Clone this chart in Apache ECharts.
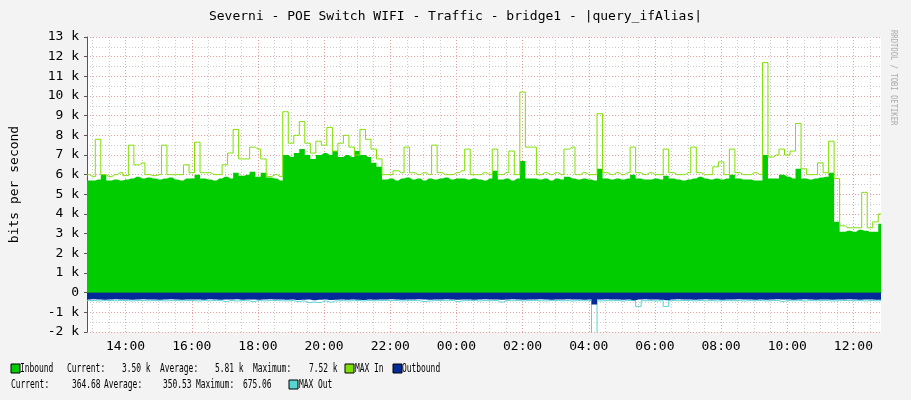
<!DOCTYPE html>
<html>
<head>
<meta charset="utf-8">
<script src="https://cdn.jsdelivr.net/npm/echarts@6/dist/echarts.min.js"></script>
<style>
  html, body { margin: 0; padding: 0; background: #f3f3f3; }
  #chart { width: 911px; height: 400px; }
</style>
</head>
<body>
<div id="chart"></div>
<script>
// 10 minute samples, starting 12:50
const startMinutes = 12 * 60 + 50;
const stepMinutes = 10;

const inbound = [
  5.7,5.7,5.75,6.0,5.7,5.75,5.7,5.75,5.8,5.9,
  5.8,5.85,5.8,5.75,5.8,5.85,5.75,5.7,5.8,5.8,
  6.0,5.8,5.75,5.7,5.8,5.9,5.8,6.1,5.95,6.0,
  6.15,5.9,6.1,5.85,5.8,5.7,
  7.0,6.9,7.1,7.3,7.0,6.8,7.0,7.1,7.0,7.2,6.9,7.0,6.9,7.2,7.0,6.9,6.6,6.4,
  5.75,5.8,5.7,5.8,5.85,5.75,5.8,5.7,5.8,5.75,5.8,5.85,5.75,5.8,5.8,5.75,
  5.8,5.75,5.7,5.8,6.2,5.75,5.8,5.7,5.8,6.7,
  5.8,5.8,5.75,5.8,5.7,5.8,5.75,5.9,5.8,5.75,
  5.8,5.75,5.7,6.3,5.8,5.75,5.8,5.75,5.8,6.0,
  5.8,5.75,5.75,5.8,5.75,5.95,5.8,5.75,5.7,5.75,
  5.8,5.9,5.8,5.75,5.8,5.75,5.8,6.0,5.8,5.75,
  5.75,5.7,5.7,7.0,5.8,5.8,6.0,5.9,5.8,6.3,
  5.8,5.75,5.8,5.85,5.9,6.1,3.6,3.1,3.15,3.1,
  3.2,3.15,3.1,3.1,3.5
];

const maxIn = [
  6.0,5.9,7.8,6.0,5.9,6.0,6.1,5.95,7.5,6.5,
  6.6,6.0,5.95,6.0,7.5,6.0,6.0,6.0,6.5,6.1,
  7.65,6.1,6.1,6.0,6.0,6.5,7.1,8.3,6.8,6.8,
  7.4,7.3,6.8,5.9,6.0,5.9,
  9.2,7.6,8.0,8.7,7.6,7.1,7.7,7.5,8.4,7.2,7.6,8.0,7.4,7.0,8.3,7.8,7.3,6.8,
  6.0,6.0,6.2,6.1,7.4,6.1,6.0,6.1,6.0,7.5,6.1,6.0,6.0,6.1,6.2,7.3,
  6.0,6.0,6.1,6.0,7.3,6.0,6.1,7.2,6.0,10.2,
  7.4,7.4,6.0,6.1,6.0,6.1,6.0,7.3,7.4,6.0,
  6.1,6.0,6.0,9.1,6.1,6.0,6.1,6.0,6.1,7.4,
  6.1,6.0,6.1,6.0,6.0,7.3,6.1,6.0,6.0,6.1,
  7.4,6.1,6.0,6.0,6.4,6.65,6.0,7.3,6.1,6.0,
  6.0,6.1,6.0,11.7,6.9,7.0,7.3,7.0,7.2,8.6,
  6.3,6.0,6.0,6.6,6.1,7.7,5.8,3.4,3.3,3.3,
  3.3,5.1,3.3,3.6,4.0
];

// outbound values (k), drawn below zero
const outbound = [
  0.35,0.34,0.35,0.36,0.35,0.34,0.35,0.35,0.36,0.35,
  0.34,0.35,0.35,0.36,0.35,0.34,0.35,0.36,0.35,0.35,
  0.35,0.36,0.34,0.35,0.36,0.35,0.35,0.34,0.36,0.35,
  0.35,0.36,0.35,0.34,0.35,0.35,
  0.36,0.35,0.37,0.36,0.35,0.38,0.36,0.35,0.37,0.36,0.35,0.36,0.35,0.36,0.37,0.35,0.36,0.35,
  0.35,0.34,0.35,0.36,0.35,0.35,0.34,0.35,0.36,0.35,0.35,0.34,0.35,0.36,0.35,0.35,
  0.36,0.35,0.34,0.35,0.35,0.36,0.35,0.34,0.35,0.36,
  0.35,0.35,0.34,0.35,0.36,0.35,0.35,0.34,0.35,0.35,
  0.36,0.35,0.6,0.35,0.34,0.35,0.35,0.36,0.35,0.38,
  0.35,0.34,0.35,0.35,0.36,0.38,0.35,0.34,0.35,0.35,
  0.36,0.35,0.34,0.35,0.35,0.36,0.35,0.35,0.34,0.35,
  0.35,0.36,0.35,0.36,0.35,0.34,0.35,0.35,0.36,0.35,
  0.34,0.35,0.36,0.35,0.35,0.36,0.35,0.35,0.34,0.35,
  0.36,0.35,0.35,0.36,0.365
];

const maxOut = [
  0.4,0.4,0.42,0.4,0.4,0.41,0.4,0.4,0.42,0.4,
  0.4,0.41,0.4,0.4,0.42,0.4,0.4,0.41,0.4,0.4,
  0.42,0.4,0.41,0.4,0.4,0.45,0.4,0.42,0.4,0.41,
  0.45,0.4,0.42,0.4,0.4,0.41,
  0.42,0.4,0.45,0.42,0.5,0.48,0.5,0.42,0.48,0.42,0.4,0.42,0.41,0.4,0.42,0.4,0.41,0.4,
  0.4,0.41,0.4,0.42,0.4,0.4,0.41,0.45,0.42,0.4,0.4,0.41,0.4,0.45,0.41,0.4,
  0.4,0.42,0.4,0.41,0.4,0.48,0.4,0.41,0.4,0.42,
  0.4,0.4,0.41,0.42,0.4,0.4,0.41,0.4,0.42,0.4,
  0.41,0.4,2.1,0.42,0.4,0.41,0.4,0.42,0.4,0.4,
  0.7,0.41,0.4,0.42,0.41,0.7,0.4,0.41,0.4,0.4,
  0.42,0.4,0.41,0.4,0.42,0.4,0.4,0.41,0.4,0.42,
  0.4,0.41,0.4,0.42,0.4,0.4,0.45,0.4,0.41,0.4,
  0.42,0.4,0.41,0.4,0.4,0.42,0.41,0.4,0.4,0.41,
  0.4,0.42,0.4,0.41,0.4
];

const yTicks = [-2, -1, 0, 1, 2, 3, 4, 5, 6, 7, 8, 9, 10, 11, 12, 13];

const pad = n => (n < 10 ? '0' : '') + n;
const categories = inbound.map((v, i) => {
  let m = (startMinutes + i * stepMinutes) % 1440;
  return pad(Math.floor(m / 60)) + ':' + pad(m % 60);
});
const minuteOf = i => (startMinutes + i * stepMinutes) % 1440;
const isMajor = i => minuteOf(i) % 120 === 0;
const isMinor = i => minuteOf(i) % 30 === 0;

const mono = 'DejaVu Sans Mono';
const chart = echarts.init(document.getElementById('chart'));

// rrdtool legend font is narrow, squeeze mono text horizontally
const legendRow = (items, y) => items.map(it => it.box
  ? { type: 'rect', shape: { x: it.x, y: y - 5, width: 9, height: 9 },
      style: { fill: it.box, stroke: '#000', lineWidth: 1 } }
  : { type: 'text', x: it.x, y: y, scaleX: 0.66,
      style: { text: it.t, font: '12px "' + mono + '"', fill: '#000', verticalAlign: 'middle' } });

chart.setOption({
  backgroundColor: '#f3f3f3',
  animation: false,
  title: {
    text: 'Severni - POE Switch WIFI - Traffic - bridge1 - |query_ifAlias|',
    left: 'center', top: 5,
    textStyle: { fontFamily: mono, fontSize: 13, fontWeight: 'normal', color: '#000' }
  },
  grid: { left: 81, right: 30, top: 37, bottom: 68, show: true, backgroundColor: '#fff', borderWidth: 0 },
  xAxis: [{
    type: 'category', data: categories, boundaryGap: false,
    axisLine: { lineStyle: { color: '#555' } },
    axisTick: { interval: (i) => isMinor(i), length: 3, lineStyle: { color: '#555' } },
    axisLabel: { interval: (i) => isMajor(i), fontFamily: mono, fontSize: 13, color: '#000', margin: 8 },
    splitLine: { show: true, interval: (i) => isMajor(i), lineStyle: { color: '#e8a0a0', type: [1, 2] } }
  }, {
    type: 'category', data: categories, boundaryGap: false, position: 'bottom',
    axisLine: { show: false }, axisTick: { show: false }, axisLabel: { show: false },
    splitLine: { show: true, interval: (i) => isMinor(i) && !isMajor(i), lineStyle: { color: '#ccc', type: [1, 2] } }
  }],
  yAxis: {
    type: 'value', min: yTicks[0], max: yTicks[yTicks.length - 1], interval: 1,
    name: 'bits per second', nameLocation: 'middle', nameGap: 66, nameRotate: 90,
    nameTextStyle: { fontFamily: mono, fontSize: 13, color: '#000' },
    axisLine: { show: true, lineStyle: { color: '#555' } },
    axisTick: { show: true, length: 3, lineStyle: { color: '#555' } },
    axisLabel: { fontFamily: mono, fontSize: 13, color: '#000', formatter: v => v === 0 ? '0' : v + ' k' },
    splitLine: { lineStyle: { color: '#e8a0a0', type: [1, 2] } },
    minorTick: { show: false, splitNumber: 2 },
    minorSplitLine: { show: true, lineStyle: { color: '#ccc', type: [1, 2] } }
  },
  series: [{
    name: 'Inbound', type: 'line', step: 'middle', data: inbound, symbol: 'none',
    lineStyle: { width: 0 }, areaStyle: { color: '#00cc00', opacity: 1 }, z: 2
  }, {
    name: 'MAX In', type: 'line', step: 'middle', data: maxIn, symbol: 'none',
    lineStyle: { width: 1, color: '#7ee000' }, z: 3
  }, {
    name: 'MAX Out', type: 'line', step: 'middle', data: maxOut.map(v => -v), symbol: 'none',
    lineStyle: { width: 1, color: '#55d6d3' }, z: 3
  }, {
    name: 'Outbound', type: 'line', step: 'middle', data: outbound.map(v => -v), symbol: 'none',
    lineStyle: { width: 0 }, areaStyle: { color: '#002a97', opacity: 1 }, z: 4
  }],
  graphic: [
    { type: 'text', x: 898, y: 30, rotation: -Math.PI / 2, scaleX: 0.8,
      style: { text: 'RRDTOOL / TOBI OETIKER', font: '9px "' + mono + '"', fill: '#aaa' } },
    ...legendRow([
      { x: 11, box: '#00cc00' }, { x: 20, t: 'Inbound' }, { x: 67, t: 'Current:' },
      { x: 122, t: '3.50 k' }, { x: 160, t: 'Average:' }, { x: 215, t: '5.81 k' },
      { x: 253, t: 'Maximum:' }, { x: 309, t: '7.52 k' },
      { x: 345, box: '#7ee000' }, { x: 355, t: 'MAX In' },
      { x: 393, box: '#002a97' }, { x: 402, t: 'Outbound' }
    ], 369),
    ...legendRow([
      { x: 11, t: 'Current:' }, { x: 72, t: '364.68' }, { x: 104, t: 'Average:' },
      { x: 163, t: '350.53' }, { x: 196, t: 'Maximum:' }, { x: 243, t: '675.06' },
      { x: 289, box: '#55d6d3' }, { x: 299, t: 'MAX Out' }
    ], 385)
  ]
});
</script>
</body>
</html>
